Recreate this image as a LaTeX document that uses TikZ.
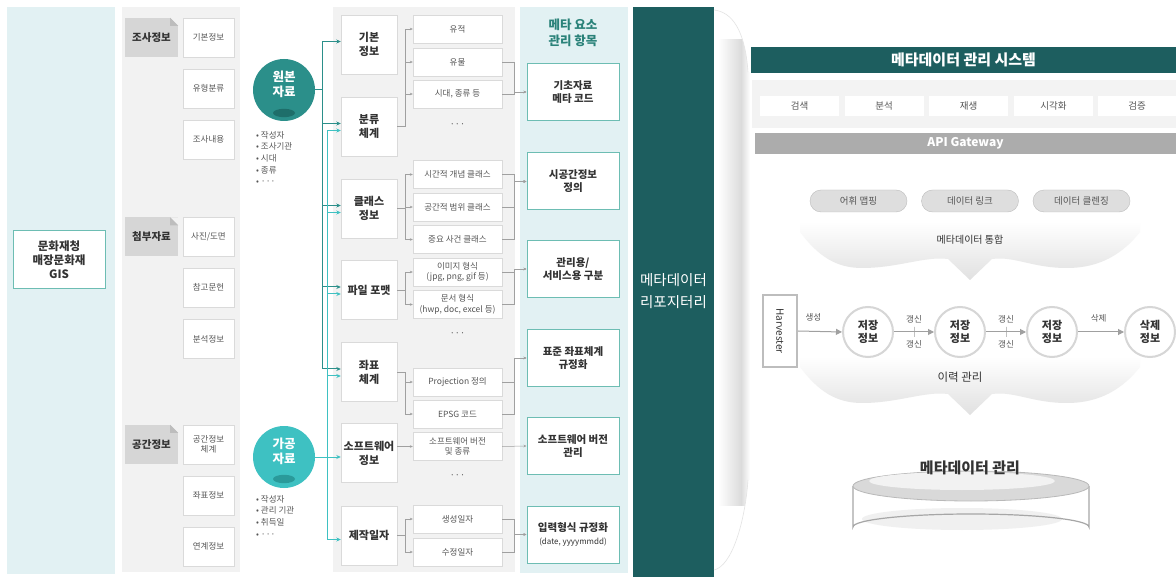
\documentclass[tikz,border=0pt]{standalone}
\usepackage{fontspec}
\setmainfont{Noto Sans CJK KR}
\usetikzlibrary{arrows.meta,shapes.geometric}
\definecolor{dteal}{HTML}{1D5E5F}
\definecolor{tealc}{HTML}{2B8F8A}
\definecolor{tealdk}{HTML}{1E6E6A}
\definecolor{cyanc}{HTML}{3EC1C2}
\definecolor{cyandk}{HTML}{2A9A9A}
\definecolor{lcyan}{HTML}{E2F1F3}
\definecolor{gpanel}{HTML}{F2F2F2}
\definecolor{catgray}{HTML}{D6D6D6}
\definecolor{catfold}{HTML}{BDBDBD}
\definecolor{boxgray}{HTML}{DADADA}
\definecolor{txtgray}{HTML}{555555}
\definecolor{dgray}{HTML}{333333}
\definecolor{mborder}{HTML}{6DBDB3}
\definecolor{arrgray}{HTML}{A0A0A0}
\definecolor{mtitle}{HTML}{2A8279}
\begin{document}
\begin{tikzpicture}[x=1pt,y=-1pt,
  catlbl/.style={fill=catgray, minimum width=53pt, minimum height=39pt, inner sep=0pt, font=\bfseries\fontsize{10.5}{13}\selectfont, text=dgray},
  sbox/.style={draw=boxgray, fill=white, minimum width=51pt, minimum height=39pt, inner sep=1pt, align=center, font=\fontsize{8.5}{10.5}\selectfont, text=txtgray},
  cbox/.style={draw=boxgray, fill=white, minimum width=56pt, minimum height=59pt, inner sep=1pt, align=center, font=\bfseries\fontsize{11}{14}\selectfont, text=dgray},
  subbox/.style={draw=boxgray, fill=white, minimum width=89pt, minimum height=28pt, inner sep=1pt, align=center, font=\fontsize{8.5}{10.5}\selectfont, text=txtgray},
  mbox/.style={draw=mborder, line width=1pt, fill=white, minimum width=92pt, minimum height=57pt, inner sep=1pt, align=center, font=\bfseries\fontsize{10.5}{13}\selectfont, text=dgray},
  dots/.style={font=\fontsize{9}{10}\selectfont, text=txtgray},
  garr/.style={draw=arrgray, line width=0.5pt, -{Stealth[length=3pt,width=2.6pt]}},
  tarr/.style={draw=tealc, line width=1pt, -{Stealth[length=4.5pt,width=4pt]}},
  carr/.style={draw=cyanc, line width=1pt, -{Stealth[length=4.5pt,width=4pt]}},
  bullets/.style={align=left, anchor=north west, inner sep=0pt, font=\fontsize{8.5}{11.6}\selectfont, text=txtgray},
  sysbtn/.style={fill=white, minimum width=79pt, minimum height=20pt, inner sep=0pt, font=\fontsize{9.5}{11}\selectfont, text=txtgray},
  pill/.style={fill=catgray!80, draw=catfold, rounded corners=11pt, minimum width=97pt, minimum height=22pt, inner sep=0pt, font=\fontsize{9.5}{11}\selectfont, text=txtgray},
  store/.style={circle, draw=catgray, line width=2pt, fill=white, minimum size=50pt, inner sep=0pt, align=center, font=\bfseries\fontsize{11}{13.5}\selectfont, text=dgray},
  flow/.style={draw=arrgray, line width=1pt, -{Triangle[length=6pt,width=6pt]}},
  flbl/.style={font=\fontsize{8.5}{10}\selectfont, text=txtgray},
  tick/.style={draw=arrgray, line width=0.8pt, minimum width=0pt, minimum height=10pt, inner sep=0pt}
]
\useasboundingbox (0,0) rectangle (1176,577);
\fill[white] (0,0) rectangle (1176,577);

% ---------- left panels ----------
\fill[lcyan] (7,7) rectangle (115,574);
\node[draw=mborder, line width=1pt, fill=white, minimum width=92pt, minimum height=58pt, align=center, inner sep=1pt,
  font=\bfseries\fontsize{11.5}{14}\selectfont, text=dgray] (gis) at (59,260) {문화재청\\매장문화재\\GIS};

\fill[gpanel] (122,7) rectangle (240,572);
\node[catlbl] (cat1) at (151.5,37.5) {조사정보};
\node[catlbl] (cat2) at (151.5,237) {첨부자료};
\node[catlbl] (cat3) at (151.5,444.5) {공간정보};
\foreach \c in {cat1,cat2,cat3}{
  \fill[gpanel] (\c.north east) -- ++(-8,0) -- ++(8,8) -- cycle;
  \fill[catfold] ([xshift=-8pt]\c.north east) -- ++(8,8) -- ++(-8,0) -- cycle;
}
\node[sbox] (s1) at (208.5,37.5) {기본정보};
\node[sbox] (s2) at (208.5,88.5) {유형분류};
\node[sbox] (s3) at (208.5,139.5) {조사내용};
\node[sbox] (s4) at (208.5,237) {사진/도면};
\node[sbox] (s5) at (208.5,287.5) {참고문헌};
\node[sbox] (s6) at (208.5,339) {분석정보};
\node[sbox] (s7) at (208.5,444.5) {공간정보\\체계};
\node[sbox] (s8) at (208.5,495.5) {좌표정보};
\node[sbox] (s9) at (208.5,546.5) {연계정보};

% ---------- circles ----------
\node[circle, fill=tealc, minimum size=62pt, inner sep=0pt] (won) at (284,90) {};
\fill[tealdk] (284,113) ellipse (11 and 4.2);
\node[align=center, text=white, font=\bfseries\fontsize{12.5}{15}\selectfont] (wonlbl) at (284,84) {원본\\자료};
\node[bullets] (wonb) at (256,131) {• 작성자\\• 조사기관\\• 시대\\• 종류\\• ···};

\node[circle, fill=cyanc, minimum size=62pt, inner sep=0pt] (gag) at (284,457) {};
\fill[cyandk] (284,479) ellipse (11 and 4.2);
\node[align=center, text=white, font=\bfseries\fontsize{12.5}{15}\selectfont] (gaglbl) at (284,451) {가공\\자료};
\node[bullets] (gagb) at (256,495) {• 작성자\\• 관리 기관\\• 취득일\\• ···};

% ---------- middle panel ----------
\fill[gpanel] (333,7) rectangle (515,572);
\node[cbox] (c1) at (369,44.5) {기본\\정보};
\node[cbox] (c2) at (369,126.5) {분류\\체계};
\node[cbox] (c3) at (369,208.5) {클래스\\정보};
\node[cbox] (c4) at (369,290) {파일 포맷};
\node[cbox] (c5) at (369,372) {좌표\\체계};
\node[cbox] (c6) at (369,453) {소프트웨어\\정보};
\node[cbox] (c7) at (369,535.5) {제작일자};

\node[subbox] (u1) at (457.5,29) {유적};
\node[subbox] (u2) at (457.5,62) {유물};
\node[subbox] (u3) at (457.5,94) {시대, 종류 등};
\node[dots] (d1) at (457.5,126) {···};
\node[subbox] (u4) at (457.5,174.5) {시간적 개념 클래스};
\node[subbox] (u5) at (457.5,207) {공간적 범위 클래스};
\node[subbox] (u6) at (457.5,239.5) {중요 사건 클래스};
\node[subbox] (u7) at (457.5,272) {이미지 형식\\(jpg, png, gif 등)};
\node[subbox] (u8) at (457.5,304.5) {문서 형식\\(hwp, doc, excel 등)};
\node[dots] (d2) at (457.5,335) {···};
\node[subbox] (u9) at (457.5,382) {Projection 정의};
\node[subbox] (u10) at (457.5,414) {EPSG 코드};
\node[subbox] (u11) at (457.5,446.5) {소프트웨어 버전\\및 종류};
\node[dots] (d3) at (457.5,477) {···};
\node[subbox] (u12) at (457.5,519) {생성일자};
\node[subbox] (u13) at (457.5,552) {수정일자};

% category -> sub
\foreach \t in {u1,u2,u3} \draw[garr] (c2.east) -- ++(8,0) |- (\t.west);
\foreach \t in {u4,u5,u6} \draw[garr] (c3.east) -- ++(8,0) |- (\t.west);
\foreach \t in {u7,u8} \draw[garr] (c4.east) -- ++(8,0) |- (\t.west);
\foreach \t in {u9,u10} \draw[garr] (c5.east) -- ++(8,0) |- (\t.west);
\draw[garr] (c6.east |- u11.west) -- (u11.west);
\foreach \t in {u12,u13} \draw[garr] (c7.east) -- ++(8,0) |- (\t.west);

% ---------- meta column ----------
\fill[lcyan] (520,7) rectangle (628,573);
\node[align=center, text=mtitle, font=\bfseries\fontsize{12.5}{16}\selectfont] (mt) at (573,33) {메타 요소\\관리 항목};
\node[mbox] (m1) at (573,92) {기초자료\\메타 코드};
\node[mbox] (m2) at (573,181.5) {시공간정보\\정의};
\node[mbox] (m3) at (573,269) {관리용/\\서비스용 구분};
\node[mbox] (m4) at (573,358) {표준 좌표체계\\규정화};
\node[mbox] (m5) at (573,446) {소프트웨어 버전\\관리};
\node[mbox] (m6) at (573,534.5) {입력형식 규정화\\{\mdseries\fontsize{8}{10}\selectfont (date, yyyymmdd)}};

\foreach \s in {u2,u3} \draw[garr] (\s.east) -- ++(12,0) |- (m1.west);
\foreach \s in {u4,u5,u6} \draw[garr] (\s.east) -- ++(12,0) |- (m2.west);
\foreach \s in {u7,u8} \draw[garr] (\s.east) -- ++(12,0) |- (m3.west);
\foreach \s in {u9,u10} \draw[garr] (\s.east) -- ++(12,0) |- (m4.west);
\draw[garr] (u11.east) -- (m5.west);
\foreach \s in {u12,u13} \draw[garr] (\s.east) -- ++(12,0) |- (m6.west);

% teal trunks
\coordinate (t1) at (322,90);
\draw[draw=tealc, line width=1pt] (won.east) -- (t1);
\foreach \c in {c1,c2,c3,c4,c5} \draw[tarr] (t1) |- ([yshift=3pt]\c.west);
\coordinate (t2) at (327,457);
\foreach \c in {c2,c3,c4,c5,c7} \draw[carr] (t2) |- ([yshift=-4pt]\c.west);
\draw[carr] (gag.east) -- (gag.east -| c6.west);

% ---------- repository column ----------
\fill[dteal] (633,7) rectangle (714,577);
\node[align=center, text=white, font=\fontsize{14.5}{22}\selectfont] (repo) at (673.5,291) {메타데이터\\리포지터리};

% decorative bracket shadow
\shade[left color=white, right color=gray!28] (718,40) rectangle (741,505);
\shade[left color=gray!28, right color=white] (741,40) rectangle (750,505);
\fill[white] (714,0) -- (714,10) .. controls (732,12) and (745,30) .. (748,72) -- (760,72) -- (760,0) -- cycle;
\fill[white] (760,480) -- (748,480) .. controls (745,522) and (732,566) .. (714,570) -- (714,577) -- (760,577) -- cycle;
\draw[gray!22, line width=0.6pt] (714,10) .. controls (732,12) and (745,30) .. (748,72);
\draw[gray!22, line width=0.6pt] (748,480) .. controls (745,522) and (732,566) .. (714,570);

% ---------- management system ----------
\node[fill=dteal, minimum width=425pt, minimum height=26pt, inner sep=0pt, text=white,
  font=\bfseries\fontsize{15}{17}\selectfont] (sys) at (963.5,60) {메타데이터 관리 시스템};
\fill[gpanel!85!gray!40] (752,80) rectangle (1176,128);
\node[sysbtn] (b1) at (799.5,106) {검색};
\node[sysbtn] (b2) at (884,106) {분석};
\node[sysbtn] (b3) at (968.5,106) {재생};
\node[sysbtn] (b4) at (1053.5,106) {시각화};
\node[sysbtn] (b5) at (1137,106) {검증};
\node[fill=gray!65, minimum width=421pt, minimum height=21pt, inner sep=0pt, text=white,
  font=\bfseries\fontsize{12}{14}\selectfont] (api) at (965.5,143.5) {API Gateway};
\node[pill] (p1) at (858.5,201) {어휘 맵핑};
\node[pill] (p2) at (970,201) {데이터 링크};
\node[pill] (p3) at (1081.5,201) {데이터 클렌징};

% wave 1
\shade[top color=white, bottom color=gray!24]
  (800,222) -- (1140,222) -- (1140,232) .. controls (1118,260) and (1092,268) .. (1067,268)
  .. controls (1032,268) and (1015,256) .. (992,259) -- (970,280) -- (948,259)
  .. controls (925,256) and (898,268) .. (862,268) .. controls (836,268) and (818,256) .. (800,232) -- cycle;
\node[font=\fontsize{10}{12}\selectfont, text=dgray] (w1) at (970,240) {메타데이터 통합};

% wave 2
\shade[top color=white, bottom color=gray!24]
  (800,357) -- (1140,357) -- (1140,367) .. controls (1118,395) and (1092,403) .. (1067,403)
  .. controls (1032,403) and (1015,391) .. (992,394) -- (970,415) -- (948,394)
  .. controls (925,391) and (898,403) .. (862,403) .. controls (836,403) and (818,391) .. (800,367) -- cycle;
\node[font=\fontsize{11.5}{13}\selectfont, text=dgray] (w2) at (960,377) {이력 관리};

% flow
\node[draw=catfold, line width=2pt, fill=white, minimum width=34pt, minimum height=72pt, inner sep=0pt] (harv) at (780,331) {};
\node[rotate=-90, font=\fontsize{10}{12}\selectfont, text=dgray] (harvl) at (780,331) {Harvester};
\node[store] (f1) at (868,332) {저장\\정보};
\node[store] (f2) at (960,332) {저장\\정보};
\node[store] (f3) at (1052,332) {저장\\정보};
\node[store] (f4) at (1150,332) {삭제\\정보};
\draw[flow] (harv.east) -- (f1.west) node[flbl, pos=0.35, above=6pt] {생성};
\draw[flow] (f1.east) -- (f2.west) node[tick, midway] {} node[flbl, midway, above=5pt] {갱신} node[flbl, midway, below=5pt] {갱신};
\draw[flow] (f2.east) -- (f3.west) node[tick, midway] {} node[flbl, midway, above=5pt] {갱신} node[flbl, midway, below=5pt] {갱신};
\draw[flow] (f3.east) -- (f4.west) node[flbl, pos=0.45, above=6pt] {삭제};

% database
\fill[white] (853,486) -- (853,527) arc[start angle=180, end angle=360, x radius=118, y radius=13] -- (1089,486) -- cycle;
\fill[gray!12] (962,519) ellipse (100 and 11);
\draw[gray!70, line width=1.2pt] (853,486) -- (853,527) arc[start angle=180, end angle=360, x radius=118, y radius=13] -- (1089,486);
\fill[gray!30] (971,486) ellipse (118 and 15);
\draw[gray!55, line width=0.8pt] (971,486) ellipse (118 and 15);
\fill[gray!10] (962,481) ellipse (93 and 9);
\node[font=\bfseries\fontsize{15}{17}\selectfont, text=dgray] (db) at (970,468) {메타데이터 관리};
\end{tikzpicture}
\end{document}
